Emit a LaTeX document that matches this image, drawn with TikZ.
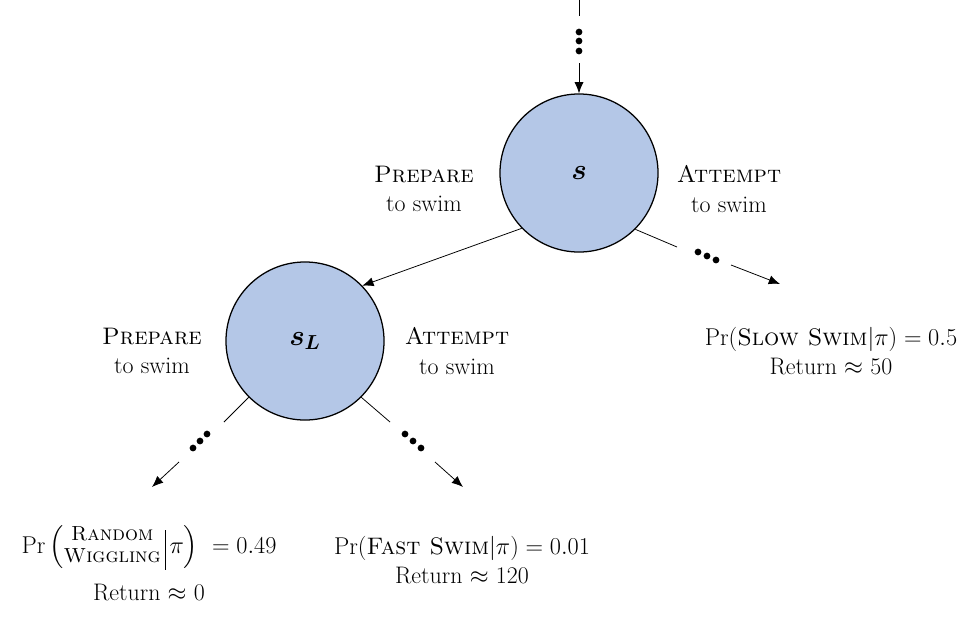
\documentclass[tikz,border=0pt]{standalone}
\usepackage{amsmath}
\usepackage{amssymb}
\usepackage{bm}
\usepackage{tikz}
\usetikzlibrary{arrows.meta}

\definecolor{stateblue}{RGB}{180,199,231}
\newcommand{\stacksc}[1]{\text{\fontsize{14.5}{15}\selectfont\textsc{#1}}}
\newcommand{\givenbar}{\,\vrule height 16.5pt depth 11.5pt width 0.5pt\,}

\begin{document}
\begin{tikzpicture}[x=0.025cm,y=-0.025cm,
        state/.style={circle,draw,line width=0.9pt,fill=stateblue,minimum size=3.95cm,inner sep=0pt,font=\fontsize{21}{25}\selectfont},
        act/.style={align=center,font=\fontsize{17}{21}\selectfont},
        leaf/.style={align=center,font=\fontsize{17}{21}\selectfont},
        edge/.style={line width=0.55pt},
        arr/.style={edge,-{Latex[length=8pt,width=6.5pt]}}]
    \useasboundingbox (0,0) rectangle (974,625);

    \node[state] (S) at (579,173) {$\bm{s}$};
    \node[state] (SL) at (305,341) {$\bm{s_L}$};

    \node[act] (prepS) at (424,189) {\textsc{Prepare}\\to swim};
    \node[act] (attS) at (729,189) {\textsc{Attempt}\\to swim};
    \node[act] (prepSL) at (152,351) {\textsc{Prepare}\\to swim};
    \node[act] (attSL) at (457,351) {\textsc{Attempt}\\to swim};

    \node[leaf] (slow) at (831,351) {$\Pr(\text{\textsc{Slow Swim}}|\pi) = 0.5$\\Return $\approx$ 50};
    \node[leaf] (fast) at (462,560) {$\Pr(\text{\textsc{Fast Swim}}|\pi) = 0.01$\\Return $\approx$ 120};
    \node[leaf] (wiggle) at (149,563) {$\renewcommand{\arraystretch}{0.74}\Pr\left(\begin{array}{@{}c@{}}\stacksc{Random}\\\stacksc{Wiggling}\end{array}\givenbar\pi\right)\ = 0.49$\\[9pt]Return $\approx$ 0};

    % incoming
    \coordinate (top0) at (579,0);
    \coordinate (top1) at (579,16);
    \coordinate (top2) at (579,63);
    \draw[edge] (top0) -- (top1);
    \draw[arr] (top2) -- (S.north);

    \draw[arr] (S.224) -- (SL.44);

    % branches
    \coordinate (sR1) at (677,247);
    \coordinate (sR2) at (731,265);
    \coordinate (sR3) at (780,284);
    \draw[edge] (S.-45) -- (sR1);
    \draw[arr] (sR2) -- (sR3);

    \coordinate (lL1) at (224,422);
    \coordinate (lL2) at (179,462);
    \coordinate (lL3) at (152,487);
    \draw[edge] (SL.-135) -- (lL1);
    \draw[arr] (lL2) -- (lL3);

    \coordinate (lR1) at (390,422);
    \coordinate (lR2) at (435,462);
    \coordinate (lR3) at (463,487);
    \draw[edge] (SL.-45) -- (lR1);
    \draw[arr] (lR2) -- (lR3);

    \foreach \x/\y in {579/32,579/41,579/51,698/252,707/256,716/260,207/434,200/441,193/448,405/434,413/441,421/448}
        \fill (\x,\y) circle (2.4pt);
\end{tikzpicture}
\end{document}
